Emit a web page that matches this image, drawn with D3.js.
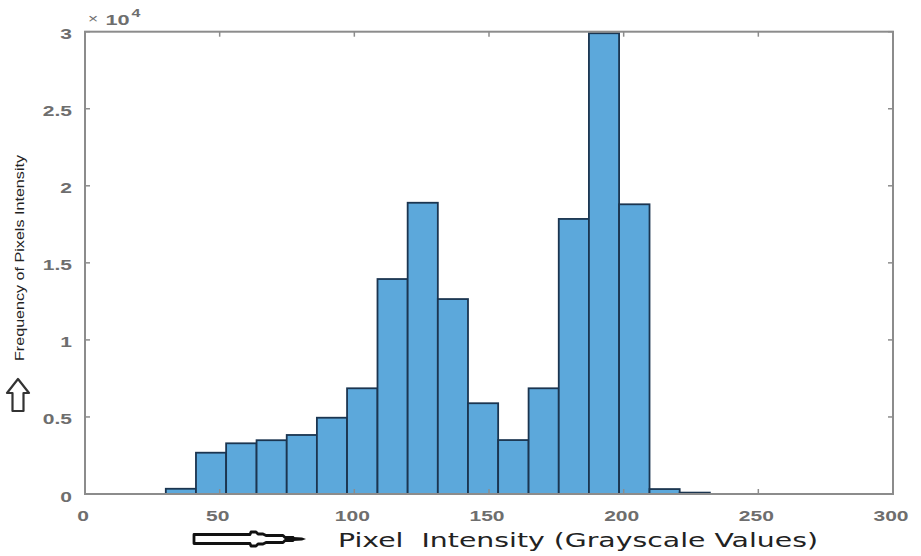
<!DOCTYPE html>
<html>
<head>
<meta charset="utf-8">
<script src="https://cdn.jsdelivr.net/npm/d3@7/dist/d3.min.js"></script>
<style>
  html, body { margin: 0; padding: 0; background: #fff; }
  svg { display: block; }
</style>
</head>
<body>
<svg id="chart" width="921" height="556"></svg>
<script>
// ---- data ----
const binEdges = [30, 41.2, 52.4, 63.7, 74.9, 86.1, 97.3, 108.6, 119.8, 131, 142.2, 153.4, 164.7, 175.9, 187.1, 198.3, 209.6, 220.8, 232];
const counts = [340, 2680, 3290, 3490, 3830, 4950, 6860, 13950, 18900, 12650, 5890, 3500, 6860, 17850, 29900, 18800, 320, 90];
const xTicks = [0, 50, 100, 150, 200, 250, 300];
const yTicks = [0, 0.5, 1, 1.5, 2, 2.5, 3];
const yTickLabels = ["0", "0.5", "1", "1.5", "2", "2.5", "3"];
const xLabel = "Pixel  Intensity (Grayscale Values)";
const yLabel = "Frequency of Pixels Intensity";

const svg = d3.select("#chart");
const L = 85, R = 893, T = 31.7, B = 494;
const x = d3.scaleLinear().domain([0, 300]).range([L, R]);
const y = d3.scaleLinear().domain([0, 30000]).range([B, T]);

const axisColor = "#8c8c8c";
const labelColor = "#6e6e6e";

// bars
svg.append("g").selectAll("rect")
  .data(counts)
  .join("rect")
  .attr("x", (d, i) => x(binEdges[i]))
  .attr("width", (d, i) => x(binEdges[i + 1]) - x(binEdges[i]))
  .attr("y", d => y(d))
  .attr("height", d => y(0) - y(d))
  .attr("fill", "#5ca8db")
  .attr("stroke", "#1b3550")
  .attr("stroke-width", 1.8);

// axis box
svg.append("rect")
  .attr("x", L).attr("y", T).attr("width", R - L).attr("height", B - T)
  .attr("fill", "none").attr("stroke", axisColor).attr("stroke-width", 2);

// ticks (inward) on all four sides
const tk = 5;
const tickG = svg.append("g").attr("stroke", axisColor).attr("stroke-width", 1.5);
xTicks.forEach(v => {
  tickG.append("line").attr("x1", x(v)).attr("x2", x(v)).attr("y1", B).attr("y2", B - tk);
  tickG.append("line").attr("x1", x(v)).attr("x2", x(v)).attr("y1", T).attr("y2", T + tk);
});
yTicks.forEach(v => {
  tickG.append("line").attr("x1", L).attr("x2", L + tk).attr("y1", y(v * 1e4)).attr("y2", y(v * 1e4));
  tickG.append("line").attr("x1", R).attr("x2", R - tk).attr("y1", y(v * 1e4)).attr("y2", y(v * 1e4));
});

// tick labels (stretched horizontally like the reference)
const stretch = 1.4;
function stretchedText(g, tx, ty, str, anchor, size) {
  const t = g.append("text")
    .attr("font-family", "Liberation Sans, Arial, sans-serif")
    .attr("font-size", size)
    .attr("font-weight", "bold")
    .attr("fill", labelColor)
    .attr("dominant-baseline", "central")
    .text(str);
  const w = t.node().getComputedTextLength();
  const W = w * stretch;
  let x0 = anchor === "end" ? tx - W : anchor === "middle" ? tx - W / 2 : tx;
  t.attr("x", x0).attr("y", ty).attr("textLength", W).attr("lengthAdjust", "spacingAndGlyphs");
  return t;
}
const lab = svg.append("g");
xTicks.forEach(v => stretchedText(lab, x(v) - 2, 515, String(v), "middle", 15));
yTicks.forEach((v, i) => stretchedText(lab, 72, y(v * 1e4) + 2, yTickLabels[i], "end", 15));

// exponent label (x 10^4), stretched like the other labels
const ex = svg.append("g").attr("transform", "translate(88,25) scale(1.45,1)")
  .attr("font-family", "Liberation Sans, Arial, sans-serif")
  .attr("fill", labelColor);
ex.append("text").attr("x", 0).attr("y", -2).attr("font-size", 12).text("\u00d7");
ex.append("text").attr("x", 12).attr("y", 0).attr("font-size", 15).attr("font-weight", "bold").text("10");
ex.append("text").attr("x", 30).attr("y", -8).attr("font-size", 11).attr("font-weight", "bold").text("4");

// y label
svg.append("text")
  .attr("transform", "translate(24,258) rotate(-90)")
  .attr("text-anchor", "middle")
  .attr("font-family", "Liberation Sans Narrow, Liberation Sans, Arial, sans-serif")
  .attr("font-size", 12.5)
  .attr("fill", "#222")
  .attr("textLength", 206)
  .attr("lengthAdjust", "spacingAndGlyphs")
  .attr("x", 0).attr("y", 0)
  .text(yLabel);

// x label
svg.append("text")
  .attr("x", 338).attr("y", 547)
  .attr("font-family", "DejaVu Sans, Verdana, sans-serif")
  .attr("font-size", 19)
  .attr("fill", "#222")
  .attr("textLength", 480)
  .attr("lengthAdjust", "spacingAndGlyphs")
  .style("white-space", "pre")
  .text(xLabel);

// up arrow (outline) next to y label
svg.append("path")
  .attr("d", "M18,379 L29,393 L23.5,393 L23.5,411 L12.5,411 L12.5,393 L7,393 Z")
  .attr("fill", "#fff").attr("stroke", "#333").attr("stroke-width", 2.2).attr("stroke-linejoin", "round");

// right arrow (outline) next to x label
svg.append("path")
  .attr("d", "M194,534.5 L250,534.5 L251,532 L256,532 L258,534 L263,534 L266,535.5 L283,535.5 L285,537.5 L293,537.5 L293,540.5 L285,540.5 L283,542.5 L266,542.5 L263,544 L258,544 L256,546 L251,546 L250,543.5 L194,543.5 Z")
  .attr("fill", "#fff").attr("stroke", "#111").attr("stroke-width", 2.8).attr("stroke-linejoin", "round");
svg.append("path")
  .attr("d", "M293,537 L302,537.5 L306,539 L302,540.5 L293,541 Z")
  .attr("fill", "#111");
</script>
</body>
</html>
